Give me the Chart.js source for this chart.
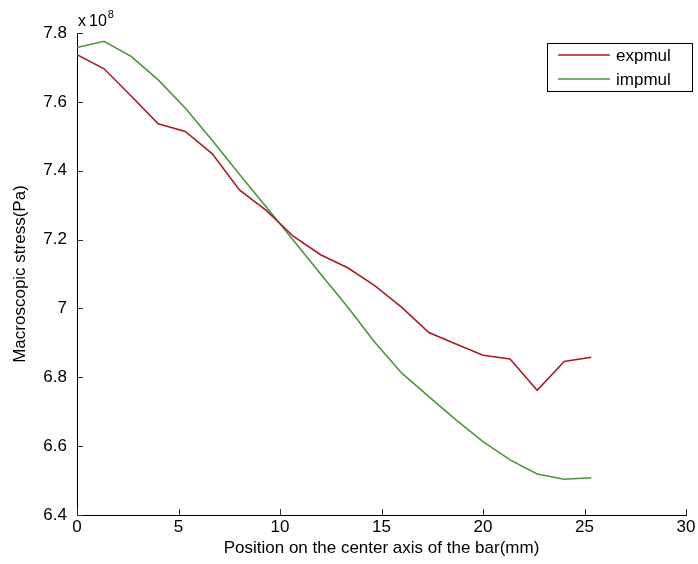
<!DOCTYPE html>
<html>
<head>
<meta charset="utf-8">
<script src="https://cdn.jsdelivr.net/npm/chart.js@4"></script>
<style>
  html, body { margin: 0; padding: 0; background: #fff; }
  #wrap { width: 698px; height: 564px; }
</style>
</head>
<body>
<div id="wrap"><canvas id="myChart" width="698" height="564"></canvas></div>
<script>
// positions along the bar (mm)
var positions = [0, 1.333, 2.667, 4, 5.333, 6.667, 8, 9.333, 10.667, 12,
                 13.333, 14.667, 16, 17.333, 18.667, 20, 21.333, 22.667, 24, 25.333];
// stress in units of 1e8 Pa
var expmul = [7.737, 7.696, 7.617, 7.536, 7.514, 7.449, 7.344, 7.284, 7.209, 7.156,
              7.118, 7.066, 7.003, 6.930, 6.897, 6.864, 6.853, 6.762, 6.846, 6.858];
var impmul = [7.758, 7.776, 7.732, 7.664, 7.582, 7.488, 7.390, 7.294, 7.197, 7.100,
              7.004, 6.902, 6.812, 6.744, 6.676, 6.613, 6.560, 6.519, 6.504, 6.508];
var xTicks = [0, 5, 10, 15, 20, 25, 30];
var yTicks = [6.4, 6.6, 6.8, 7, 7.2, 7.4, 7.6, 7.8];

var FONT = "'Liberation Sans', Arial, sans-serif";
var FS = 17;
var redColor = "rgb(168, 28, 36)";
var greenColor = "rgb(74, 150, 56)";

function toPoints(xs, ys) {
    return xs.map(function (x, i) { return {x: x, y: ys[i]}; });
}

// inward tick marks, exponent label and boxed legend
var decorations = {
    id: 'decorations',
    afterDatasetsDraw: function (chart) {
        var ctx = chart.ctx;
        var xs = chart.scales.x, ys = chart.scales.y;
        var area = chart.chartArea;
        ctx.save();
        ctx.strokeStyle = "#333";
        ctx.lineWidth = 1;
        ctx.beginPath();
        xTicks.forEach(function (v) {
            var px = Math.round(xs.getPixelForValue(v)) + 0.5;
            ctx.moveTo(px, area.bottom);
            ctx.lineTo(px, area.bottom - 6);
        });
        yTicks.forEach(function (v) {
            var py = Math.round(ys.getPixelForValue(v)) + 0.5;
            ctx.moveTo(area.left, py);
            ctx.lineTo(area.left + 6, py);
        });
        ctx.stroke();

        // exponent
        ctx.fillStyle = "#000";
        ctx.textBaseline = "alphabetic";
        ctx.textAlign = "left";
        ctx.font = "16px " + FONT;
        var x0 = area.left + 1;
        ctx.fillText("x", x0, area.top - 7);
        x0 += ctx.measureText("x").width + 3;
        ctx.fillText("10", x0, area.top - 7);
        x0 += ctx.measureText("10").width + 1;
        ctx.font = "11px " + FONT;
        ctx.fillText("8", x0, area.top - 15);

        // legend box
        var bx = 547.5, by = 43.5, bw = 145, bh = 48;
        ctx.fillStyle = "#fff";
        ctx.fillRect(bx, by, bw, bh);
        ctx.strokeStyle = "#000";
        ctx.strokeRect(bx, by, bw, bh);
        ctx.font = FS + "px " + FONT;
        ctx.textBaseline = "middle";
        chart.data.datasets.forEach(function (ds, i) {
            var ly = 55 + i * 24;
            ctx.strokeStyle = ds.borderColor;
            ctx.lineWidth = 1.5;
            ctx.beginPath();
            ctx.moveTo(558, ly);
            ctx.lineTo(610, ly);
            ctx.stroke();
            ctx.fillStyle = "#000";
            ctx.fillText(ds.label, 616, ly + 1);
        });
        ctx.restore();
    }
};

var ctx = document.getElementById('myChart').getContext('2d');

var myChart = new Chart(ctx, {
    type: 'line',
    data: {
        datasets: [{
            label: "expmul",
            borderColor: redColor,
            backgroundColor: redColor,
            borderWidth: 1.6,
            pointRadius: 0,
            tension: 0,
            data: toPoints(positions, expmul)
        },
        {
            label: "impmul",
            borderColor: greenColor,
            backgroundColor: greenColor,
            borderWidth: 1.6,
            pointRadius: 0,
            tension: 0,
            data: toPoints(positions, impmul)
        }]
    },
    options: {
        responsive: false,
        animation: false,
        layout: { padding: { top: 33, right: 12, left: 0, bottom: 0 } },
        plugins: {
            legend: { display: false },
            tooltip: { enabled: false }
        },
        scales: {
            x: {
                type: 'linear',
                min: 0,
                max: 30,
                afterBuildTicks: function (scale) {
                    scale.ticks = xTicks.map(function (v) { return {value: v}; });
                },
                grid: { display: true, drawOnChartArea: false, drawTicks: false },
                border: { display: true, color: "#000", width: 1 },
                ticks: { color: "#000", font: { family: FONT, size: FS }, padding: 2, maxRotation: 0 },
                title: { display: true, text: "Position on the center axis of the bar(mm)",
                         color: "#000", font: { family: FONT, size: FS }, padding: { top: 0, bottom: 5 } },
                afterFit: function (scale) { scale.height = 49; }
            },
            y: {
                type: 'linear',
                min: 6.4,
                max: 7.8,
                afterBuildTicks: function (scale) {
                    scale.ticks = yTicks.map(function (v) { return {value: v}; });
                },
                grid: { display: true, drawOnChartArea: false, drawTicks: false },
                border: { display: true, color: "#000", width: 1 },
                ticks: {
                    color: "#000", font: { family: FONT, size: FS }, padding: 10,
                    callback: function (v) { return String(Number(v.toFixed(1))); }
                },
                title: { display: true, text: "Macroscopic stress(Pa)",
                         color: "#000", font: { family: FONT, size: FS }, padding: { top: 10, bottom: 4 } },
                afterFit: function (scale) { scale.width = 77; }
            }
        }
    },
    plugins: [decorations]
});
</script>
</body>
</html>
